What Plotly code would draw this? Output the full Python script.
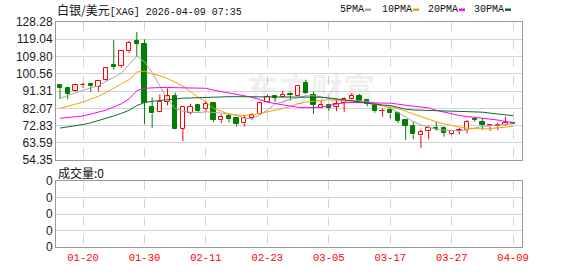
import plotly.graph_objects as go

# ---------------- data ----------------
dates = ["01-15","01-16","01-19","01-20","01-21","01-22","01-23","01-26","01-27","01-28",
         "01-29","01-30","02-02","02-03","02-04","02-05","02-06","02-09","02-10","02-11",
         "02-12","02-13","02-16","02-17","02-18","02-19","02-20","02-23","02-24","02-25",
         "02-26","02-27","03-02","03-03","03-04","03-05","03-06","03-09","03-10","03-11",
         "03-12","03-13","03-16","03-17","03-18","03-19","03-20","03-23","03-24","03-25",
         "03-26","03-27","03-30","03-31","04-01","04-02","04-06","04-07","04-08","04-09"]

opens = [94.3, 92.8, 91.4, 94.4, 95.2, 93.5, 97.1, 105.2, 104.6, 112.6,
         118.1, 116.4, 82.8, 80.2, 85.7, 88.4, 71.2, 79.8, 83.6, 81.6,
         85.0, 75.7, 78.1, 76.7, 74.0, 76.7, 79.0, 85.7, 88.8, 88.0,
         89.8, 88.8, 95.5, 89.0, 82.4, 83.6, 82.8, 85.0, 87.1, 88.5,
         86.4, 83.6, 80.6, 81.4, 79.3, 75.9, 72.8, 67.6, 69.8, 71.8,
         71.6, 68.5, 69.9, 70.7, 76.2, 75.0, 72.4, 72.5, 73.2, 74.3]
highs = [94.6, 93.5, 95.2, 95.7, 95.7, 96.8, 104.0, 118.6, 113.2, 118.1,
         123.0, 119.0, 87.9, 89.5, 92.8, 90.5, 83.0, 84.5, 84.3, 86.0,
         85.2, 78.8, 79.5, 77.3, 78.5, 79.4, 85.3, 89.4, 88.9, 91.4,
         90.5, 94.5, 97.2, 91.0, 86.5, 84.6, 86.5, 88.0, 90.3, 89.7,
         86.9, 83.8, 82.0, 82.7, 80.3, 76.2, 75.0, 70.7, 72.8, 74.8,
         72.4, 70.6, 71.5, 75.8, 76.9, 76.9, 73.5, 74.2, 77.6, 74.8]
lows = [87.0, 87.0, 91.0, 92.8, 90.9, 91.0, 96.8, 102.9, 103.8, 111.6,
        109.8, 73.5, 71.6, 80.0, 83.6, 70.8, 64.5, 78.8, 79.8, 80.2,
        74.7, 74.1, 74.6, 72.3, 72.3, 75.9, 78.6, 85.4, 85.7, 87.6,
        86.2, 88.5, 89.8, 79.0, 82.2, 80.5, 80.5, 80.2, 86.8, 86.0,
        83.1, 79.7, 77.6, 76.6, 74.1, 65.2, 65.5, 60.7, 65.5, 70.0,
        66.9, 67.8, 68.2, 68.6, 75.0, 70.7, 70.0, 70.4, 72.8, 73.6]
closes = [92.8, 89.9, 94.5, 94.7, 93.8, 96.6, 103.5, 104.4, 112.6, 117.3,
          116.7, 85.0, 79.3, 85.4, 88.5, 71.0, 82.8, 82.8, 80.5, 84.5,
          75.7, 77.4, 76.4, 73.8, 76.7, 78.5, 84.8, 88.3, 87.6, 89.4,
          89.0, 94.0, 90.3, 84.0, 83.6, 82.4, 84.5, 86.8, 88.6, 86.2,
          84.4, 80.9, 80.9, 79.3, 75.5, 72.8, 68.1, 69.3, 71.5, 71.2,
          68.8, 69.8, 70.7, 75.0, 75.9, 72.9, 73.3, 72.9, 74.2, 73.8]

ma5 = [87.5, 89.0, 90.5, 92.0, 93.1, 94.0, 96.6, 98.5, 100.9, 105.5,
       110.0, 107.0, 101.2, 94.0, 87.1, 81.9, 80.5, 80.0, 79.8, 80.2,
       80.0, 79.5, 79.0, 78.5, 76.7, 76.5, 78.5, 81.1, 84.5, 85.4,
       87.0, 87.6, 88.8, 88.8, 88.2, 87.6, 86.8, 85.9, 86.0, 86.2,
       85.8, 85.0, 83.8, 82.2, 79.8, 77.0, 75.0, 73.2, 71.8, 70.8,
       70.4, 70.0, 70.0, 70.7, 71.6, 72.4, 72.8, 73.2, 73.5, 73.8]
ma10 = [82.0, 83.0, 84.3, 85.4, 87.0, 88.5, 90.5, 93.0, 95.2, 97.4,
        101.5, 102.0, 100.5, 99.5, 98.0, 96.0, 94.0, 91.0, 88.0, 85.5,
        82.0, 80.5, 79.0, 78.5, 78.3, 78.5, 79.3, 80.2, 81.0, 81.9,
        83.0, 84.5, 85.3, 85.9, 86.3, 86.6, 86.6, 86.6, 86.2, 85.6,
        84.8, 84.0, 83.4, 83.0, 82.0, 80.5, 79.0, 77.6, 76.2, 74.8,
        73.8, 72.8, 72.0, 71.5, 71.1, 71.0, 71.2, 71.6, 72.0, 72.4]
ma20 = [76.7, 77.2, 77.6, 78.0, 79.0, 80.0, 81.1, 82.8, 84.5, 87.1,
        91.5, 92.8, 93.1, 93.2, 93.2, 93.1, 93.1, 93.1, 93.0, 92.8,
        91.8, 91.0, 90.5, 89.8, 88.8, 88.0, 86.8, 85.4, 84.6, 83.8,
        83.0, 82.6, 82.4, 82.4, 82.6, 83.6, 84.4, 85.0, 85.2, 85.2,
        85.0, 84.9, 84.8, 84.8, 84.3, 83.6, 83.2, 82.8, 82.3, 81.0,
        80.0, 78.8, 78.2, 77.7, 77.2, 76.8, 76.4, 75.8, 75.0, 74.5]
ma30 = [71.5, 72.0, 72.6, 73.4, 74.3, 75.4, 76.6, 78.0, 79.4, 81.0,
        83.5, 85.2, 85.8, 86.3, 86.8, 87.4, 87.5, 87.6, 87.8, 88.0,
        88.2, 88.3, 88.3, 88.3, 88.3, 88.3, 88.3, 88.3, 88.3, 88.3,
        88.3, 88.3, 88.2, 88.2, 88.0, 87.6, 87.2, 86.6, 86.2, 85.6,
        84.8, 84.2, 83.8, 83.6, 82.6, 81.6, 81.2, 81.0, 80.9, 80.8,
        80.7, 80.5, 80.4, 80.3, 80.2, 80.0, 79.5, 79.2, 78.6, 78.1]

price_ticks = [54.35, 63.59, 72.83, 82.07, 91.31, 100.56, 109.80, 119.04, 128.28]
price_ticktext = ["54.35", "63.59", "72.83", "82.07", "91.31", "100.56", "109.80", "119.04", "128.28"]
vol_ticks = [0, 1, 2, 3, 4]
vol_ticktext = ["0", "0", "0", "0", "0"]
x_labels = ["01-20", "01-30", "02-11", "02-23", "03-05", "03-17", "03-27", "04-09"]
legend_names = ["5PMA", "10PMA", "20PMA", "30PMA"]
title_main = "白银/美元"
title_rest = "[XAG] 2026-04-09 07:35"
volume_label = "成交量:0"
watermark = "东方财富"

# ---------------- styling ----------------
RED = "#ff0000"
GREEN = "#008000"
MA_COLORS = ["#a6a6a6", "#f5a200", "#ff00ff", "#0b6b2e"]
GRID = "#d4d4d4"
BORDER = "#9a9a9a"

W, H = 578, 276
ML, MR, MT, MB = 56, 56, 22, 21
PW = W - ML - MR
PH = H - MT - MB


def px(x):
    return (x - ML) / PW


def py(y):
    return (H - MB - y) / PH


xs = list(range(len(dates)))
tick_idx = [dates.index(d) for d in x_labels]

fig = go.Figure()

# wicks (split around body so hollow candles stay hollow)
for up, color in ((True, RED), (False, GREEN)):
    wx, wy = [], []
    for i in xs:
        o, h, l, c = opens[i], highs[i], lows[i], closes[i]
        if (c >= o) != up:
            continue
        lo_b, hi_b = min(o, c), max(o, c)
        wx += [i, i, None, i, i, None]
        wy += [l, lo_b, None, hi_b, h, None]
    fig.add_trace(go.Scatter(x=wx, y=wy, mode="lines", line=dict(color=color, width=1),
                             hoverinfo="skip", showlegend=False, xaxis="x", yaxis="y"))

# bodies
up_i = [i for i in xs if closes[i] >= opens[i]]
dn_i = [i for i in xs if closes[i] < opens[i]]
fig.add_trace(go.Bar(x=up_i, base=[opens[i] for i in up_i],
                     y=[max(closes[i] - opens[i], 0.15) for i in up_i],
                     width=0.56, marker=dict(color="white", line=dict(color=RED, width=1)),
                     showlegend=False, xaxis="x", yaxis="y"))
fig.add_trace(go.Bar(x=dn_i, base=[closes[i] for i in dn_i],
                     y=[max(opens[i] - closes[i], 0.15) for i in dn_i],
                     width=0.56, marker=dict(color=GREEN, line=dict(color=GREEN, width=1)),
                     showlegend=False, xaxis="x", yaxis="y"))

# moving averages
for name, vals, col in zip(legend_names, [ma5, ma10, ma20, ma30], MA_COLORS):
    fig.add_trace(go.Scatter(x=xs, y=vals, mode="lines", name=name,
                             line=dict(color=col, width=1), showlegend=False,
                             xaxis="x", yaxis="y"))

# empty volume panel trace (all zero volume)
fig.add_trace(go.Scatter(x=xs, y=[0] * len(xs), mode="lines", line=dict(width=0),
                         showlegend=False, hoverinfo="skip", xaxis="x2", yaxis="y2"))

xr = [(ML - 60) / 7.68, (W - MR - 60) / 7.68]
main_dom = [py(165), 1]
vol_dom = [0, py(186.7)]

axis_common = dict(showline=True, mirror=True, linecolor=BORDER, linewidth=1,
                   zeroline=False, ticks="", fixedrange=True)

fig.update_layout(
    width=W, height=H,
    margin=dict(l=ML, r=MR, t=MT, b=MB, pad=0),
    paper_bgcolor="white", plot_bgcolor="white",
    barmode="overlay", bargap=0,
    showlegend=False,
    xaxis=dict(domain=[0, 1], anchor="y", range=xr, tickvals=tick_idx, ticktext=x_labels,
               showticklabels=False, showgrid=True, gridcolor=GRID, griddash="dash",
               gridwidth=1, **axis_common),
    yaxis=dict(domain=main_dom, anchor="x", range=[price_ticks[0], price_ticks[-1]],
               tickvals=price_ticks, ticktext=price_ticktext, showgrid=True, gridcolor=GRID,
               tickfont=dict(family="Liberation Sans, Arial", size=12, color="#1a1a1a"),
               **axis_common),
    xaxis2=dict(domain=[0, 1], anchor="y2", range=xr, tickvals=tick_idx, ticktext=x_labels,
                showgrid=True, gridcolor=GRID, griddash="dash", gridwidth=1,
                tickfont=dict(family="Liberation Mono, DejaVu Sans Mono", size=10.5, color=RED),
                **axis_common),
    yaxis2=dict(domain=vol_dom, anchor="x2", range=[vol_ticks[0], vol_ticks[-1]],
                tickvals=vol_ticks, ticktext=vol_ticktext, showgrid=True, gridcolor=GRID,
                tickfont=dict(family="Liberation Sans, Arial", size=12, color="#1a1a1a"),
                **axis_common),
)

annotations = []
annotations.append(dict(
    text=f'<span style="font-family:Noto Sans CJK SC;font-size:12px">{title_main}</span>{title_rest}',
    xref="paper", yref="paper", x=px(55), y=py(9.5), xanchor="left", yanchor="middle",
    showarrow=False, font=dict(family="Liberation Mono, DejaVu Sans Mono", size=10, color="#111")))
annotations.append(dict(
    text=volume_label, xref="paper", yref="paper", x=px(56), y=py(178), xanchor="left",
    yanchor="middle", showarrow=False,
    font=dict(family="Noto Sans CJK SC", size=12, color="#111")))
annotations.append(dict(
    text=f"<b>{watermark}</b>", xref="paper", yref="paper", x=px(311), y=py(89),
    xanchor="center", yanchor="middle", showarrow=False,
    font=dict(family="Noto Sans CJK SC", size=32, color="rgba(0,0,0,0.075)")))

shapes = []
leg_text_x = [338, 380, 426, 472]
leg_mark_x = [365, 413, 459, 505]
for name, tx, mx, col in zip(legend_names, leg_text_x, leg_mark_x, MA_COLORS):
    annotations.append(dict(text=name, xref="paper", yref="paper", x=px(tx), y=py(9.5),
                            xanchor="left", yanchor="middle", showarrow=False,
                            font=dict(family="Liberation Mono, DejaVu Sans Mono", size=10,
                                      color="#111")))
    shapes.append(dict(type="rect", xref="paper", yref="paper", x0=px(mx), x1=px(mx + 6),
                       y0=py(10.5), y1=py(8), fillcolor=col, line=dict(width=0)))

fig.update_layout(annotations=annotations, shapes=shapes)

fig.write_html("out.html", config={"displayModeBar": False})
